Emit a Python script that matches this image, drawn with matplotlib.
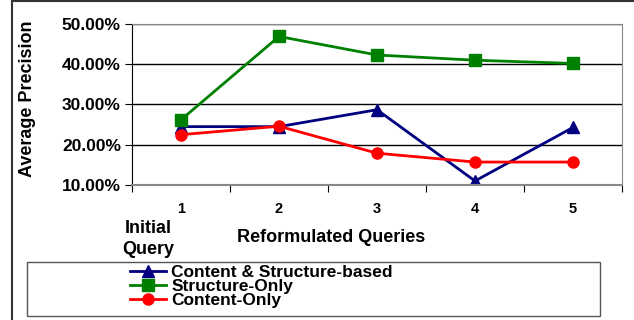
import matplotlib.pyplot as plt
import matplotlib.patches as patches

plt.rcParams['font.family'] = ['Liberation Sans', 'DejaVu Sans']

# Data
queries = ["1", "2", "3", "4", "5"]
content_structure = [24.5, 24.5, 28.7, 11.0, 24.3]
structure_only = [26.2, 46.9, 42.3, 41.0, 40.2]
content_only = [22.5, 24.6, 17.9, 15.7, 15.7]
y_ticks = [10, 20, 30, 40, 50]

W, H = 634, 320
fig = plt.figure(figsize=(W / 100, H / 100), dpi=100)

# outer chart frame (only left/top visible)
fig.add_artist(patches.Rectangle((12 / W, -0.1), 1.0, 1 - 1.5 / H + 0.1,
                                 transform=fig.transFigure, fill=False,
                                 edgecolor="#333333", linewidth=1.5))

ax = fig.add_axes([132 / W, 1 - 185 / H, 490 / W, 161 / H])
x = range(len(queries))
ax.plot(x, content_structure, color="#000080", marker="^", markersize=9, linewidth=2,
        label="Content & Structure-based")
ax.plot(x, structure_only, color="#008000", marker="s", markersize=8, linewidth=2,
        label="Structure-Only")
ax.plot(x, content_only, color="#ff0000", marker="o", markersize=8, linewidth=2,
        label="Content-Only")

ax.set_xlim(-0.5, len(queries) - 0.5)
ax.set_ylim(10, 50)
ax.set_yticks(y_ticks)
ax.set_yticklabels([f"{v:.2f}%" for v in y_ticks], fontsize=12.5, fontweight="bold")
ax.set_xticks([i + 0.5 for i in range(-1, len(queries))])
ax.set_xticklabels([])
ax.set_xticks(list(x), minor=True)
ax.set_xticklabels(queries, minor=True, fontsize=10.5, fontweight="bold")
ax.tick_params(axis="x", which="major", direction="out", length=5, color="black")
ax.tick_params(axis="x", which="minor", length=0, pad=12)
ax.tick_params(axis="y", direction="out", length=5, pad=3)
ax.yaxis.grid(True, color="black", linewidth=1)
ax.set_axisbelow(True)
for s in ["top", "right"]:
    ax.spines[s].set_color("#888888")
ax.spines["left"].set_color("black")
ax.spines["bottom"].set_color("#888888")
ax.spines["bottom"].set_linewidth(1.5)

fig.text(28 / W, 1 - 99 / H, "Average Precision", rotation=90, ha="center", va="center",
         fontsize=13, fontweight="bold")
fig.text(148 / W, 1 - 239 / H, "Initial\nQuery", ha="center", va="center",
         fontsize=13, fontweight="bold", linespacing=1.3)
fig.text(331 / W, 1 - 238 / H, "Reformulated Queries", ha="center", va="center",
         fontsize=13, fontweight="bold")

# legend box
fig.add_artist(patches.Rectangle((27 / W, 1 - 316 / H), 573 / W, 54 / H,
                                 transform=fig.transFigure, fill=False,
                                 edgecolor="#555555", linewidth=1.0))
leg = fig.legend(loc="upper left", bbox_to_anchor=(128 / W, 1 - 263 / H),
                 bbox_transform=fig.transFigure, frameon=False,
                 prop={"size": 12.5, "weight": "bold"},
                 borderpad=0.1, labelspacing=-0.05, handlelength=2.1, handletextpad=0.3,
                 borderaxespad=0)

fig.savefig("out.png", dpi=100)
